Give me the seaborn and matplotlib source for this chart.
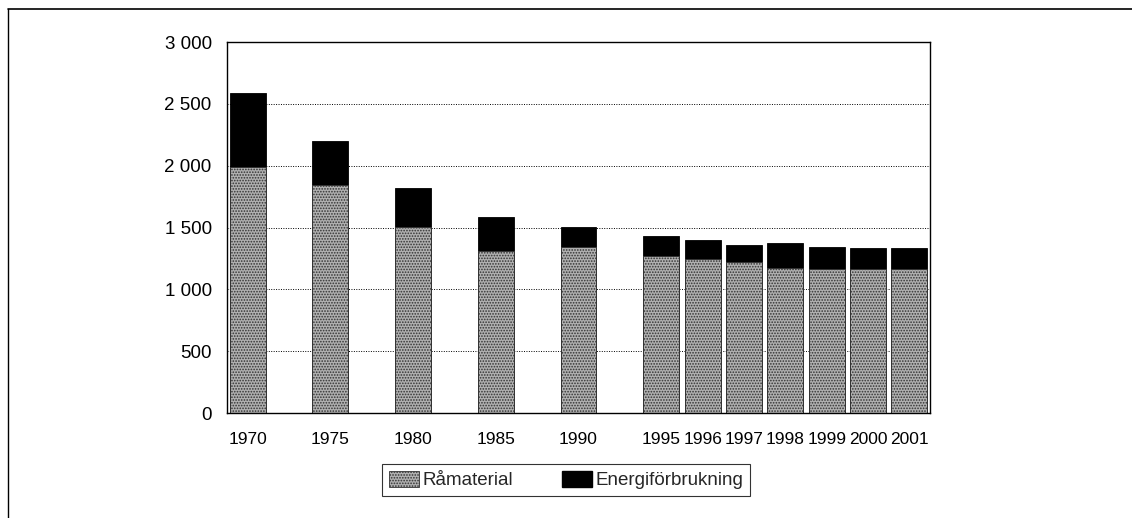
import numpy as np
import pandas as pd
import matplotlib
matplotlib.use('Agg')
import matplotlib.pyplot as plt
import matplotlib.patches as mpatches
from matplotlib.lines import Line2D
import seaborn as sns

years = [1970, 1975, 1980, 1985, 1990, 1995, 1996, 1997, 1998, 1999, 2000, 2001]
ramaterial = [1990, 1845, 1505, 1310, 1340, 1272, 1242, 1223, 1175, 1162, 1166, 1164]
energi = [600, 355, 315, 277, 165, 162, 157, 138, 203, 178, 171, 167]
yticks = [0, 500, 1000, 1500, 2000, 2500, 3000]

sns.set_style('white')
plt.rcParams['font.family'] = ['Liberation Sans Narrow', 'Liberation Sans', 'DejaVu Sans']
plt.rcParams['hatch.linewidth'] = 0.8

df = pd.DataFrame({'year': years, 'ramaterial': ramaterial, 'energi': energi})
df['total'] = df['ramaterial'] + df['energi']
# five-year steps take two slots, yearly steps one slot
df['slot'] = np.where(df['year'] <= 1995, (df['year'] - 1970) * 2 / 5, df['year'] - 1985)

fig = plt.figure(figsize=(11.32, 5.18), dpi=100)
ax = fig.add_axes([0.2005, 0.2027, 0.6211, 0.7162])

sns.barplot(data=df, x='slot', y='total', native_scale=True, width=0.87,
            color='black', saturation=1, errorbar=None, ax=ax,
            edgecolor='black', linewidth=0.6)
sns.barplot(data=df, x='slot', y='ramaterial', native_scale=True, width=0.87,
            color='#b0b0b0', saturation=1, errorbar=None, ax=ax,
            edgecolor='#333333', linewidth=0.7, hatch='......')

ax.set_xlim(-0.5, 16.5)
ax.set_ylim(0, 3000)
ax.set_yticks(yticks)
ax.set_yticklabels([f'{v:,}'.replace(',', ' ') for v in yticks])
ax.set_xticks(df['slot'])
ax.set_xticklabels([str(y) for y in years])
ax.set_xlabel('')
ax.set_ylabel('')
ax.tick_params(axis='both', length=0, labelsize=12.5, colors='black')
ax.tick_params(axis='y', pad=11, labelsize=13.5)
ax.tick_params(axis='x', pad=14)
ax.yaxis.grid(True, linestyle=(0, (1, 1.5)), color='black', linewidth=0.7)
ax.set_axisbelow(True)
for s in ax.spines.values():
    s.set_color('black')
    s.set_linewidth(1.0)

handles = [mpatches.Patch(facecolor='#b0b0b0', edgecolor='#333333', hatch='......', linewidth=0.6),
           mpatches.Patch(facecolor='black', edgecolor='black')]
leg = fig.legend(handles, ['Råmaterial', 'Energiförbrukning'], loc='center',
                 bbox_to_anchor=(0.5, 0.073), ncol=2, frameon=True, fancybox=False,
                 fontsize=13.5, handlelength=1.6, handleheight=0.9, handletextpad=0.2,
                 columnspacing=2.6, borderpad=0.35, borderaxespad=0)
leg.get_frame().set_edgecolor('black')
leg.get_frame().set_linewidth(0.8)

fig.add_artist(Line2D([0.007, 1.0], [0.983, 0.983], color='black', linewidth=1.2,
                      transform=fig.transFigure))
fig.add_artist(Line2D([0.007, 0.007], [0.0, 0.983], color='black', linewidth=1.0,
                      transform=fig.transFigure))

fig.savefig('out.png', dpi=100)
